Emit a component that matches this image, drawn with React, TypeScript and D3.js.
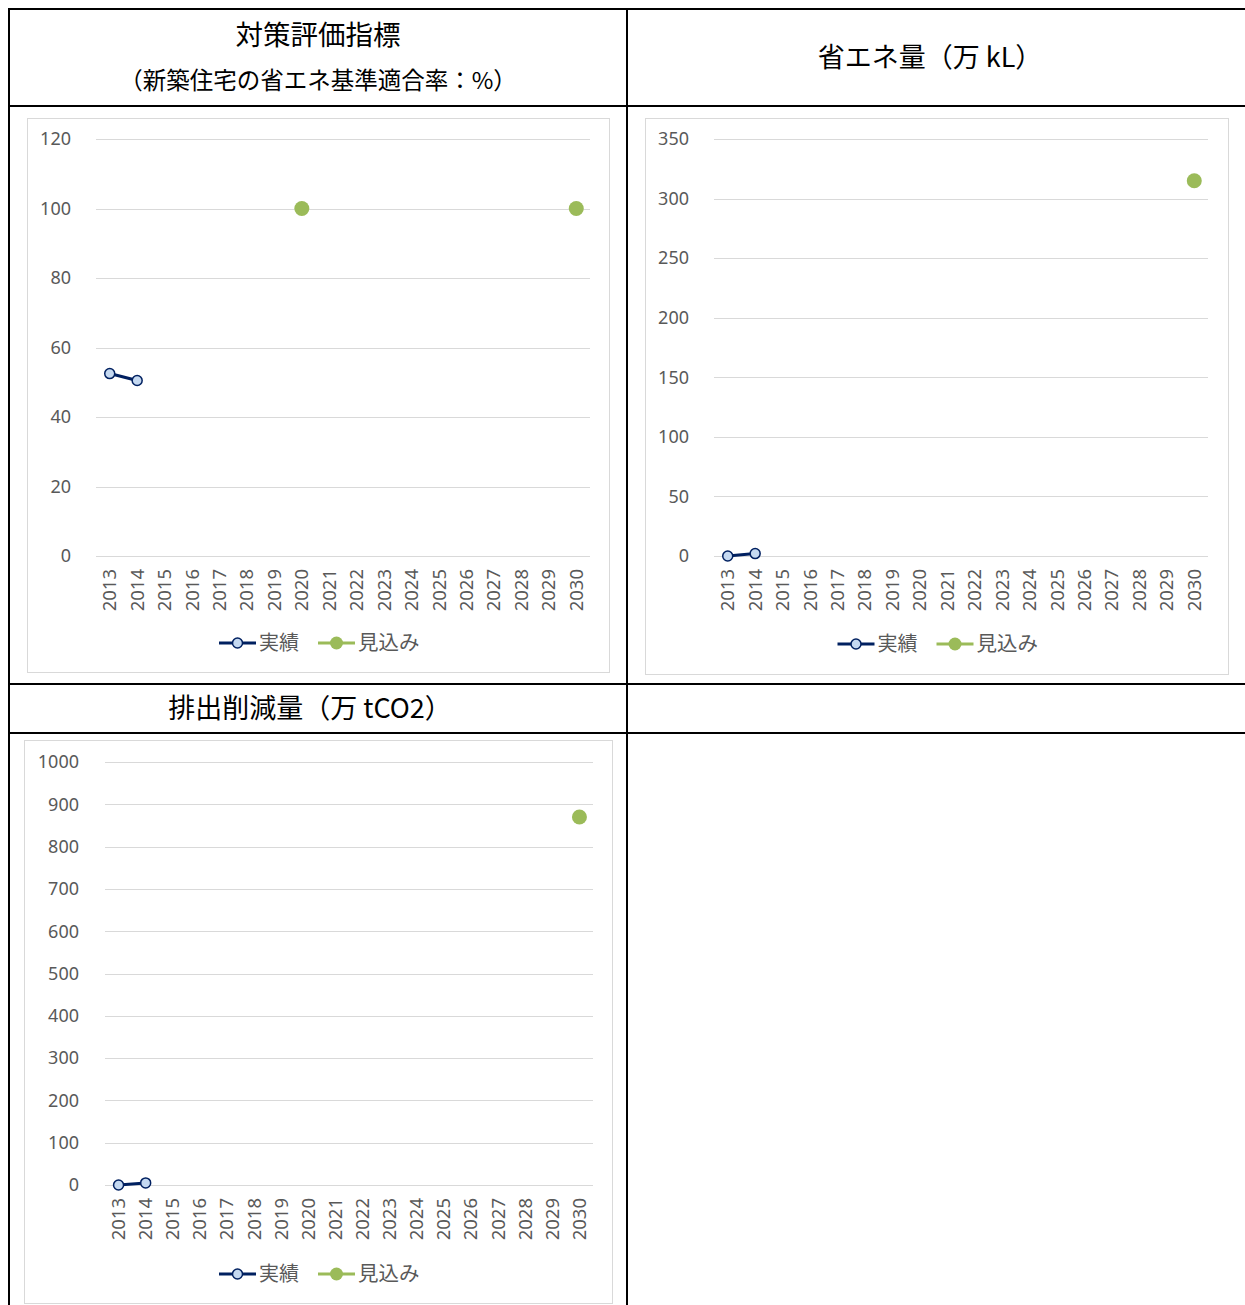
import * as d3 from 'd3';
import React from 'react';

const years = d3.range(2013, 2031).map(String);

// 対策評価指標（新築住宅の省エネ基準適合率：%）
const rateActual = [52.5, 50.5];
const rateForecast: [string, number][] = [['2020', 100], ['2030', 100]];
const rateTicks = [0, 20, 40, 60, 80, 100, 120];

// 省エネ量（万 kL）
const energyActual = [0, 2];
const energyForecast: [string, number][] = [['2030', 315]];
const energyTicks = [0, 50, 100, 150, 200, 250, 300, 350];

// 排出削減量（万 tCO2）
const co2Actual = [0, 5];
const co2Forecast: [string, number][] = [['2030', 870]];
const co2Ticks = [0, 100, 200, 300, 400, 500, 600, 700, 800, 900, 1000];

const NAVY = '#002060';
const MARKER_FILL = '#C5D9F1';
const GREEN = '#9BBB59';
const TICK = '#595959';
const GRID = '#D9D9D9';
const LATIN = '"Noto Sans", "Open Sans", sans-serif';
const CJK = '"Noto Sans CJK JP", sans-serif';

interface ChartProps {
  frame: { x0: number; y0: number; x1: number; y1: number };
  plot: { left: number; right: number; top: number; bottom: number };
  ticks: number[];
  actual: number[];
  forecast: [string, number][];
  labelX: number;
  legendY: number;
}

const Chart: React.FC<ChartProps> = ({ frame, plot, ticks, actual, forecast, labelX, legendY }) => {
  const x = d3.scaleBand().domain(years).range([plot.left, plot.right]);
  const y = d3.scaleLinear().domain([0, ticks[ticks.length - 1]]).range([plot.bottom, plot.top]);
  const cx = (d: string) => (x(d) ?? 0) + x.bandwidth() / 2;
  const actualPts = actual.map((v, i) => [cx(years[i]), y(v)] as [number, number]);
  const line = d3.line();
  const lc = (frame.x0 + frame.x1) / 2;

  return (
    <g>
      <rect x={frame.x0 + 0.5} y={frame.y0 + 0.5} width={frame.x1 - frame.x0} height={frame.y1 - frame.y0}
        fill="#fff" stroke={GRID} strokeWidth={1} />
      {ticks.map(t => (
        <g key={t}>
          <line x1={plot.left} x2={plot.right} y1={Math.round(y(t)) + 0.5} y2={Math.round(y(t)) + 0.5} stroke={GRID} />
          <text x={labelX} y={y(t)} dy="0.35em" textAnchor="end" fontFamily={LATIN} fontSize={18} fill={TICK}>{t}</text>
        </g>
      ))}
      {years.map(yr => (
        <text key={yr} transform={`translate(${cx(yr)},${plot.bottom + 13}) rotate(-90)`} dy="0.35em"
          textAnchor="end" fontFamily={LATIN} fontSize={18.5} fill={TICK}>{yr}</text>
      ))}
      <path d={line(actualPts) ?? ''} fill="none" stroke={NAVY} strokeWidth={3} />
      {actualPts.map((p, i) => (
        <circle key={i} cx={p[0]} cy={p[1]} r={5} fill={MARKER_FILL} stroke={NAVY} strokeWidth={1.5} />
      ))}
      {forecast.map(([yr, v]) => (
        <circle key={yr} cx={cx(yr)} cy={y(v)} r={7.5} fill={GREEN} />
      ))}
      <g>
        <line x1={lc - 99} x2={lc - 62} y1={legendY} y2={legendY} stroke={NAVY} strokeWidth={3} />
        <circle cx={lc - 80.5} cy={legendY} r={5} fill={MARKER_FILL} stroke={NAVY} strokeWidth={1.5} />
        <text x={lc - 59} y={legendY} dy="0.35em" fontFamily={CJK} fontSize={20} fill={TICK}>実績</text>
        <line x1={lc} x2={lc + 37} y1={legendY} y2={legendY} stroke={GREEN} strokeWidth={3} />
        <circle cx={lc + 18.5} cy={legendY} r={6.5} fill={GREEN} />
        <text x={lc + 40} y={legendY} dy="0.35em" fontFamily={CJK} fontSize={20.5} fill={TICK}>見込み</text>
      </g>
    </g>
  );
};

const App: React.FC = () => {
  const W = 1245;
  const H = 1305;
  const L = 9, M = 627, T = 9;
  const rows = [106, 684, 733];
  return (
    <div style={{ position: 'absolute', left: 0, top: 0 }}>
      <svg width={W} height={H} style={{ display: 'block' }}>
        <rect width={W} height={H} fill="#fff" />
        <Chart frame={{ x0: 27, y0: 118, x1: 609, y1: 672 }}
          plot={{ left: 96, right: 590, top: 139, bottom: 556 }}
          ticks={rateTicks} actual={rateActual} forecast={rateForecast} labelX={71} legendY={643} />
        <Chart frame={{ x0: 645, y0: 118, x1: 1228, y1: 674 }}
          plot={{ left: 714, right: 1208, top: 139, bottom: 556 }}
          ticks={energyTicks} actual={energyActual} forecast={energyForecast} labelX={689} legendY={644} />
        <Chart frame={{ x0: 24, y0: 740, x1: 612, y1: 1303 }}
          plot={{ left: 105, right: 593, top: 762, bottom: 1185 }}
          ticks={co2Ticks} actual={co2Actual} forecast={co2Forecast} labelX={79} legendY={1274} />

        {/* table grid */}
        <g stroke="#000" strokeWidth={2}>
          <line x1={L - 1} x2={W} y1={T} y2={T} />
          <line x1={L} x2={L} y1={T - 1} y2={H} />
          <line x1={M} x2={M} y1={T - 1} y2={H} />
          {rows.map(r => <line key={r} x1={L - 1} x2={W} y1={r} y2={r} />)}
        </g>

        <g fontFamily={CJK} fill="#000" textAnchor="middle">
          <text x={318} y={35} dy="0.35em" fontSize={27.5}>対策評価指標</text>
          <text x={318} y={81} dy="0.35em" fontSize={23.5}>（新築住宅の省エネ基準適合率：%）</text>
          <text x={930} y={58} dy="0.35em" fontSize={27}>省エネ量（万 kL）</text>
          <text x={310} y={709} dy="0.35em" fontSize={27}>排出削減量（万 tCO2）</text>
        </g>
      </svg>
    </div>
  );
};

export default App;
